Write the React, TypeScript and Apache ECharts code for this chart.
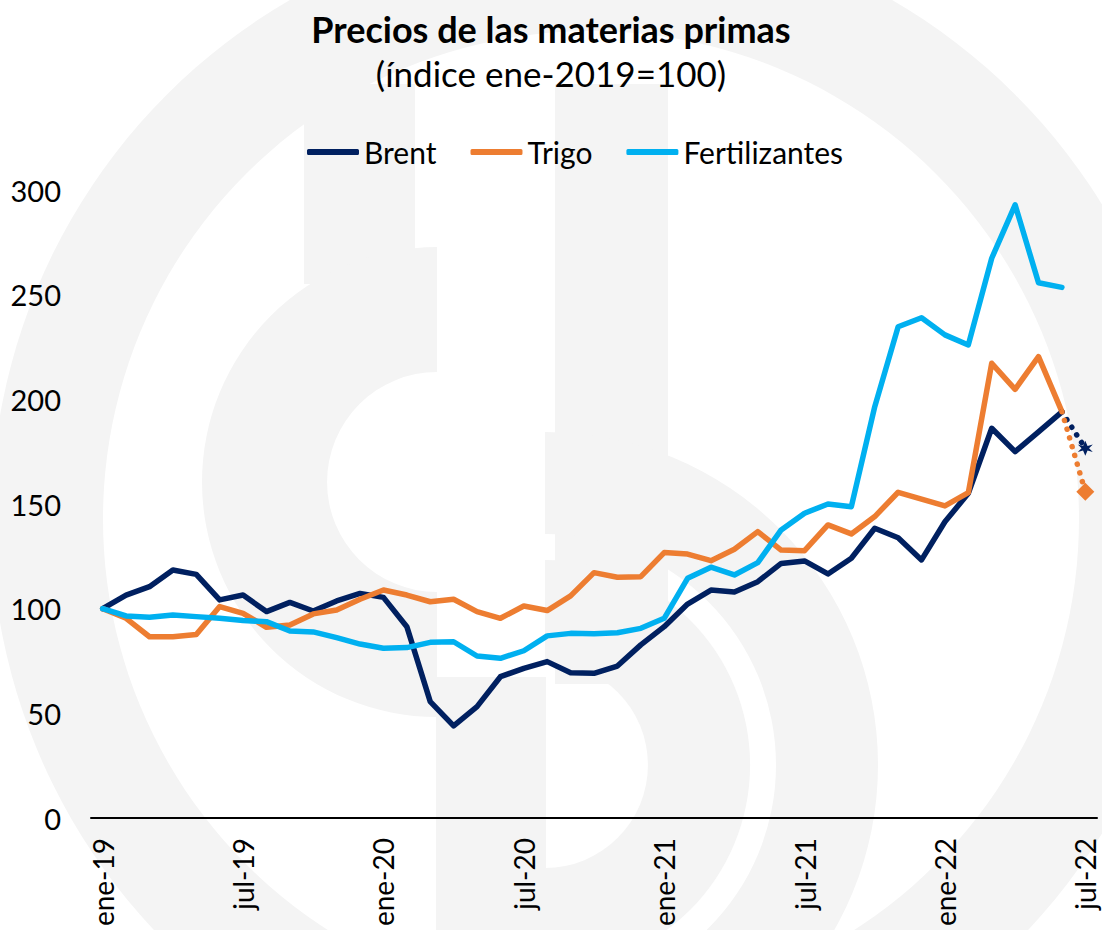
import React, { useEffect, useRef } from "react";
import * as echarts from "echarts";

const months = [
  "ene-19", "feb-19", "mar-19", "abr-19", "may-19", "jun-19", "jul-19", "ago-19", "sep-19", "oct-19", "nov-19", "dic-19",
  "ene-20", "feb-20", "mar-20", "abr-20", "may-20", "jun-20", "jul-20", "ago-20", "sep-20", "oct-20", "nov-20", "dic-20",
  "ene-21", "feb-21", "mar-21", "abr-21", "may-21", "jun-21", "jul-21", "ago-21", "sep-21", "oct-21", "nov-21", "dic-21",
  "ene-22", "feb-22", "mar-22", "abr-22", "may-22", "jun-22", "jul-22",
];

const brent = [
  100, 106.5, 110.5, 118.5, 116.4, 104.2, 106.5, 98.6, 103, 98.9, 103.7, 107.3,
  105.4, 91.4, 55.6, 44, 53.2, 67.5, 71.5, 74.7, 69.4, 69.1, 72.6, 82.7,
  91.4, 102.2, 108.9, 108, 112.9, 121.6, 122.8, 116.6, 124.1, 138.4, 133.9, 123.3,
  141.5, 155.1, 186.2, 175, 184.5, 194,
];
const brentJul22 = 176.6;

const trigo = [
  100, 95.4, 86.6, 86.6, 87.7, 101, 97.8, 91.1, 92.2, 97.5, 99.4, 104.5,
  108.9, 106.5, 103.3, 104.5, 98.6, 95.4, 101.3, 99.1, 106.1, 117.2, 115, 115.3,
  126.8, 126.1, 122.9, 128.4, 136.8, 128, 127.7, 140, 135.7, 144, 155.6, 152.3,
  149.1, 155.4, 217.2, 204.8, 220.4, 194.1,
];
const trigoJul22 = 155.9;

const fertilizantes = [
  100, 96.5, 95.9, 97, 96.2, 95.4, 94.3, 93.8, 89.3, 88.9, 86.2, 83.1,
  81.1, 81.4, 83.9, 84.2, 77.4, 76.3, 79.9, 87, 88.2, 88, 88.5, 90.6,
  95.4, 114.5, 119.8, 116.1, 122, 137.6, 145.6, 150, 148.7, 196.5, 234.7, 239,
  230.8, 226, 267.4, 292.9, 255.7, 253.5,
];

const seriesNames = ["Brent", "Trigo", "Fertilizantes"];
const colors = ["#002060", "#ED7D31", "#00B0F0"];

const FONT = "Lato";
const WM = "#f4f4f4";

function projection(hist: number[], last: number, symbol: string, size: number) {
  const arr: any[] = months.map(() => null);
  arr[hist.length - 1] = hist[hist.length - 1];
  arr[hist.length] = { value: last, symbol, symbolSize: size };
  return arr;
}

const STAR =
  "path://M0,-10 L3,-3 L10,-5 L5,0 L10,5 L3,3 L0,10 L-3,3 L-10,5 L-5,0 L-10,-5 L-3,-3 Z";

export default function App() {
  const ref = useRef<HTMLDivElement>(null);

  useEffect(() => {
    document.body.style.margin = "0";
    const chart = echarts.init(ref.current!, null, { renderer: "svg" });
    const lineSeries = [brent, trigo, fertilizantes].map((d, i) => ({
      name: seriesNames[i],
      type: "line",
      data: d,
      showSymbol: false,
      symbol: "none",
      lineStyle: { color: colors[i], width: 5.5, cap: "round", join: "round" },
      itemStyle: { color: colors[i] },
      z: 3 + i,
    }));
    const projSeries = [
      { name: "Brent proy", hist: brent, last: brentJul22, color: colors[0], symbol: STAR, size: 15 },
      { name: "Trigo proy", hist: trigo, last: trigoJul22, color: colors[1], symbol: "diamond", size: 18 },
    ].map((p) => ({
      name: p.name,
      type: "line",
      data: projection(p.hist, p.last, p.symbol, p.size),
      symbol: "none",
      showSymbol: true,
      connectNulls: false,
      lineStyle: { color: p.color, width: 5.5, type: [0.1, 9], cap: "round" },
      itemStyle: { color: p.color },
      z: 6,
    }));

    chart.setOption({
      animation: false,
      backgroundColor: "#ffffff",
      textStyle: { fontFamily: FONT },
      graphic: [
        { type: "ring", silent: true, z: -10, shape: { cx: 591, cy: 519, r: 600, r0: 488 }, style: { fill: WM } },
        { type: "rect", silent: true, z: -10, shape: { x: 304, y: 84, width: 111, height: 200 }, style: { fill: WM } },
        { type: "rect", silent: true, z: -10, shape: { x: 555, y: 84, width: 113, height: 600 }, style: { fill: WM } },
        {
          type: "sector", silent: true, z: -10,
          shape: { cx: 437, cy: 482, r: 235, r0: 110, startAngle: Math.PI / 2, endAngle: (3 * Math.PI) / 2 },
          style: { fill: WM },
        },
        { type: "rect", silent: true, z: -10, shape: { x: 436, y: 677, width: 110, height: 253 }, style: { fill: WM } },
        {
          type: "sector", silent: true, z: -10,
          shape: { cx: 545, cy: 765, r: 205, r0: 103, startAngle: -Math.PI / 2, endAngle: Math.PI / 2 },
          style: { fill: WM },
        },
        {
          type: "sector", silent: true, z: -10,
          shape: { cx: 545, cy: 765, r: 333, r0: 231, startAngle: -Math.PI / 2, endAngle: Math.PI / 2 },
          style: { fill: WM },
        },
      ],
      title: {
        text: "Precios de las materias primas",
        subtext: "(índice ene-2019=100)",
        left: "center",
        top: 6,
        itemGap: 8,
        textStyle: { fontFamily: FONT, fontSize: 36, fontWeight: "bold", color: "#000" },
        subtextStyle: { fontFamily: FONT, fontSize: 35, color: "#000" },
      },
      legend: {
        data: seriesNames,
        top: 132,
        left: 302,
        icon: "roundRect",
        itemWidth: 52,
        itemHeight: 6,
        itemGap: 34,
        textStyle: { fontFamily: FONT, fontSize: 30, color: "#000" },
      },
      grid: { left: 91, right: 5, top: 190, bottom: 112, containLabel: false },
      xAxis: {
        type: "category",
        data: months,
        boundaryGap: true,
        axisLine: { lineStyle: { color: "#000", width: 2 } },
        axisTick: { show: false },
        axisLabel: {
          interval: 5,
          rotate: 90,
          fontFamily: FONT,
          fontSize: 28,
          color: "#000",
          margin: 20,
        },
        splitLine: { show: false },
      },
      yAxis: {
        type: "value",
        min: 0,
        max: 300,
        interval: 50,
        axisLine: { show: false },
        axisTick: { show: false },
        splitLine: { show: false },
        axisLabel: { fontFamily: FONT, fontSize: 29, color: "#000", margin: 30 },
      },
      series: [...lineSeries, ...projSeries],
    });
    return () => chart.dispose();
  }, []);

  return <div ref={ref} style={{ width: 1102, height: 930 }} />;
}
